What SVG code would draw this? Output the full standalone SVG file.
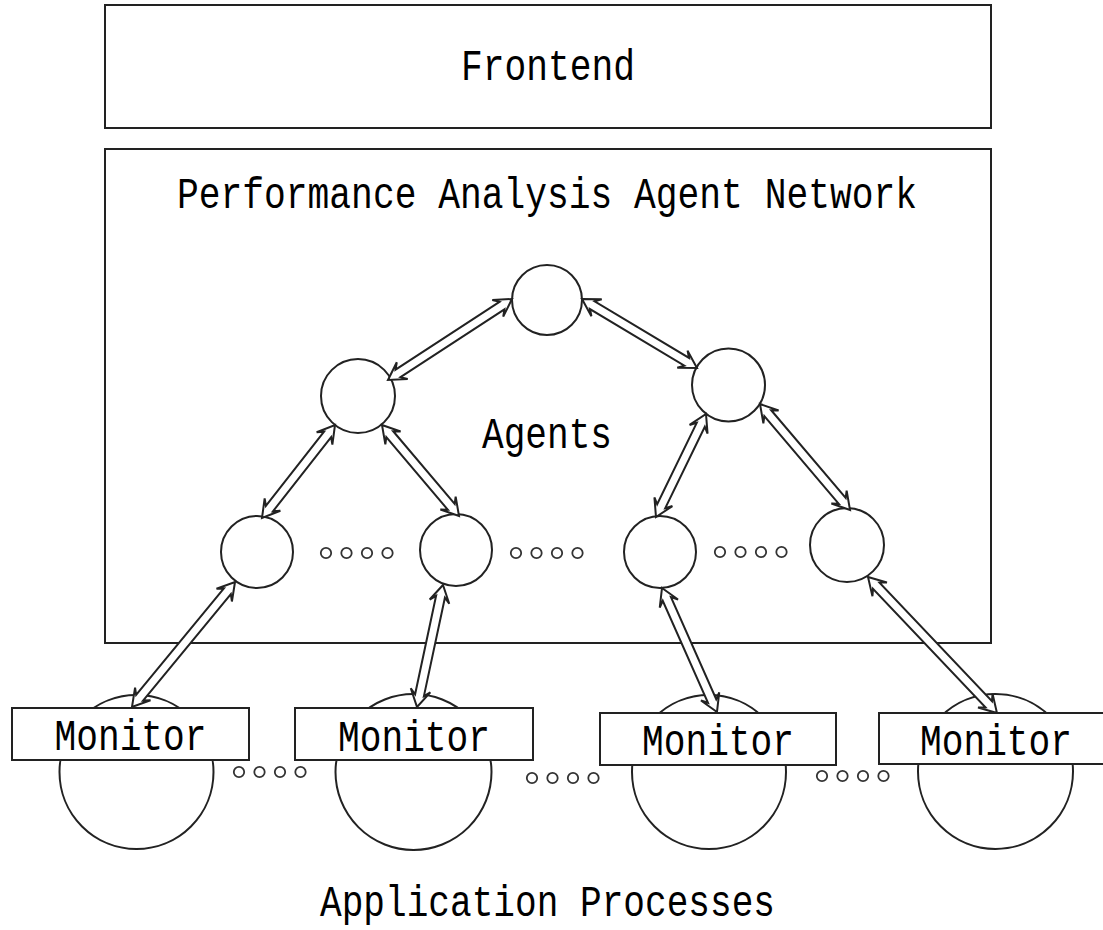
<svg xmlns="http://www.w3.org/2000/svg" width="1103" height="930" viewBox="0 0 1103 930">
  <style>
    .box { fill: #fff; stroke: #222; stroke-width: 2; }
    .node { fill: #fff; stroke: #222; stroke-width: 2; }
    .dot { fill: none; stroke: #333; stroke-width: 1.8; }
    .arrow { fill: #fff; stroke: #222; stroke-width: 2; stroke-linejoin: miter; }
    .label { font-family: "Liberation Mono", "DejaVu Sans Mono", monospace; font-size: 44px; fill: #000; text-anchor: middle; }
  </style>
  <defs>
    <g id="dots4">
      <circle class="dot" cx="0" cy="0" r="5.2"/>
      <circle class="dot" cx="20.5" cy="0" r="5.2"/>
      <circle class="dot" cx="41" cy="0" r="5.2"/>
      <circle class="dot" cx="61.5" cy="0" r="5.2"/>
    </g>
  </defs>
  <rect width="1103" height="930" fill="#fff"/>

  <!-- Frontend layer -->
  <g id="frontend">
    <rect class="box" x="105" y="5" width="886" height="123"/>
    <text class="label" x="548" y="80" textLength="174" lengthAdjust="spacingAndGlyphs">Frontend</text>
  </g>

  <!-- Agent network container -->
  <g id="agent-network">
    <rect class="box" x="105" y="149" width="886" height="494"/>
    <text class="label" x="547" y="208" textLength="740" lengthAdjust="spacingAndGlyphs">Performance Analysis Agent Network</text>
    <text class="label" x="547" y="448" textLength="130" lengthAdjust="spacingAndGlyphs">Agents</text>
  </g>

  <!-- Agent tree -->
  <g id="agent-root"><circle class="node" cx="547" cy="300" r="35"/></g>
  <g id="agent-left"><circle class="node" cx="358" cy="396" r="37"/></g>
  <g id="agent-right"><circle class="node" cx="728.5" cy="385" r="36.5"/></g>
  <g id="agent-leaf-1"><circle class="node" cx="257" cy="552" r="36"/></g>
  <g id="agent-leaf-2"><circle class="node" cx="456" cy="550" r="36"/></g>
  <g id="agent-leaf-3"><circle class="node" cx="660" cy="552" r="36"/></g>
  <g id="agent-leaf-4"><circle class="node" cx="847" cy="545" r="37"/></g>
  <g id="agent-ellipses">
    <use href="#dots4" x="326" y="553"/>
    <use href="#dots4" x="516" y="553"/>
    <use href="#dots4" x="720" y="552"/>
  </g>

  <!-- Application processes -->
  <g id="process-1">
    <circle class="node" cx="136.5" cy="772" r="77"/>
  </g>
  <g id="process-2">
    <circle class="node" cx="413.5" cy="772" r="78"/>
  </g>
  <g id="process-3">
    <circle class="node" cx="709" cy="772" r="77"/>
  </g>
  <g id="process-4">
    <circle class="node" cx="995.5" cy="771.5" r="77.5"/>
  </g>
  <g id="process-ellipses">
    <use href="#dots4" x="239" y="772"/>
    <use href="#dots4" x="532" y="778"/>
    <use href="#dots4" x="822" y="776"/>
  </g>

  <!-- Double-headed hollow connectors, each drawn along its own local x axis -->
  <g id="connectors">
    <g transform="translate(512 299) rotate(146.85)"><path class="arrow" d="M0,0 L17,-10 L12,-4.5 L136.1,-4.5 L131.1,-10 L148.1,0 L131.1,10 L136.1,4.5 L12,4.5 L17,10 Z"/></g>
    <g transform="translate(582 299) rotate(30.96)"><path class="arrow" d="M0,0 L17,-10 L12,-4.5 L122.1,-4.5 L117.1,-10 L134.1,0 L117.1,10 L122.1,4.5 L12,4.5 L17,10 Z"/></g>
    <g transform="translate(335 425) rotate(128.13)"><path class="arrow" d="M0,0 L17,-10 L12,-4.5 L106.2,-4.5 L101.2,-10 L118.2,0 L101.2,10 L106.2,4.5 L12,4.5 L17,10 Z"/></g>
    <g transform="translate(382 425) rotate(49.76)"><path class="arrow" d="M0,0 L17,-10 L12,-4.5 L107.2,-4.5 L102.2,-10 L119.2,0 L102.2,10 L107.2,4.5 L12,4.5 L17,10 Z"/></g>
    <g transform="translate(706 414) rotate(115.9)"><path class="arrow" d="M0,0 L17,-10 L12,-4.5 L102.5,-4.5 L97.5,-10 L114.5,0 L97.5,10 L102.5,4.5 L12,4.5 L17,10 Z"/></g>
    <g transform="translate(760 404) rotate(49.67)"><path class="arrow" d="M0,0 L17,-10 L12,-4.5 L127.1,-4.5 L122.1,-10 L139.1,0 L122.1,10 L127.1,4.5 L12,4.5 L17,10 Z"/></g>
    <g transform="translate(235 582) rotate(129.49)"><path class="arrow" d="M0,0 L17,-10 L12,-4.5 L150,-4.5 L145,-10 L162,0 L145,10 L150,4.5 L12,4.5 L17,10 Z"/></g>
    <g transform="translate(443 585) rotate(102.03)"><path class="arrow" d="M0,0 L17,-10 L12,-4.5 L112.7,-4.5 L107.7,-10 L124.7,0 L107.7,10 L112.7,4.5 L12,4.5 L17,10 Z"/></g>
    <g transform="translate(662 588) rotate(66.08)"><path class="arrow" d="M0,0 L17,-10 L12,-4.5 L123.6,-4.5 L118.6,-10 L135.6,0 L118.6,10 L123.6,4.5 L12,4.5 L17,10 Z"/></g>
    <g transform="translate(868 577) rotate(46.51)"><path class="arrow" d="M0,0 L17,-10 L12,-4.5 L175.4,-4.5 L170.4,-10 L187.4,0 L170.4,10 L175.4,4.5 L12,4.5 L17,10 Z"/></g>
  </g>

  <!-- Monitor boxes sit in front of the process circles -->
  <g id="monitor-1">
    <rect class="box" x="12" y="708" width="237" height="52"/>
    <text class="label" x="130.5" y="750" textLength="152" lengthAdjust="spacingAndGlyphs">Monitor</text>
  </g>
  <g id="monitor-2">
    <rect class="box" x="295" y="708" width="238" height="52"/>
    <text class="label" x="414" y="751" textLength="152" lengthAdjust="spacingAndGlyphs">Monitor</text>
  </g>
  <g id="monitor-3">
    <rect class="box" x="600" y="713" width="236" height="52"/>
    <text class="label" x="718" y="755" textLength="152" lengthAdjust="spacingAndGlyphs">Monitor</text>
  </g>
  <g id="monitor-4">
    <rect class="box" x="879" y="713" width="236" height="51"/>
    <text class="label" x="996" y="755" textLength="152" lengthAdjust="spacingAndGlyphs">Monitor</text>
  </g>

  <g id="processes-label">
    <text class="label" x="547.5" y="916" font-size="41" textLength="455" lengthAdjust="spacingAndGlyphs">Application Processes</text>
  </g>
</svg>
